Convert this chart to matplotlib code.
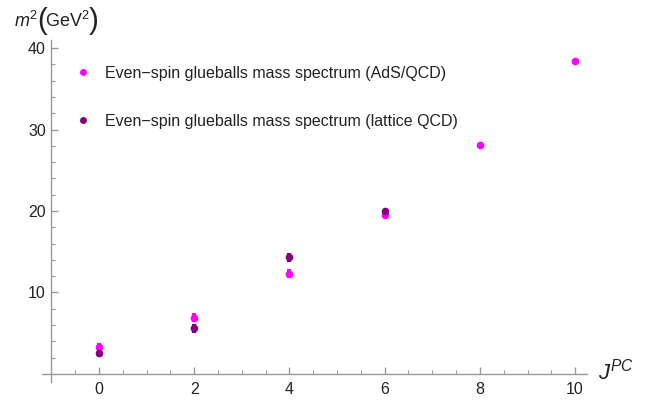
import matplotlib
matplotlib.use("Agg")
import matplotlib.pyplot as plt
from matplotlib.ticker import MultipleLocator
from matplotlib.lines import Line2D
from matplotlib.offsetbox import TextArea, HPacker, AnchoredOffsetbox

# Data
ads_J = [0, 2, 4, 6, 8, 10]
ads_m2 = [3.3, 6.9, 12.3, 19.5, 28.1, 38.4]
ads_err = [0.55, 0.55, 0.55, 0.0, 0.0, 0.0]
lat_J = [0, 2, 4, 6]
lat_m2 = [2.6, 5.6, 14.3, 20.0]
lat_err = [0.55, 0.55, 0.55, 0.0]
labels = ["Even\u2212spin glueballs mass spectrum (AdS/QCD)",
          "Even\u2212spin glueballs mass spectrum (lattice QCD)"]
c_ads = "#FF00FF"
c_lat = "#800080"

plt.rcParams['font.family'] = ['Liberation Sans', 'DejaVu Sans']
plt.rcParams['mathtext.fontset'] = 'custom'
plt.rcParams['mathtext.rm'] = 'Liberation Sans'
plt.rcParams['mathtext.it'] = 'Liberation Sans:italic'

fig = plt.figure(figsize=(6.47, 4.0), dpi=100)
ax = fig.add_axes([0.0648, 0.045, 0.8425, 0.855])
ax.set_xlim(-1.2, 10.25)
ax.set_ylim(-1.0, 41.0)

axis_col = "#999999"
for s in ['top', 'right']:
    ax.spines[s].set_visible(False)
ax.spines['left'].set_position(('data', -1))
ax.spines['bottom'].set_position(('data', 0))
for s in ['left', 'bottom']:
    ax.spines[s].set_color(axis_col)
    ax.spines[s].set_linewidth(1.0)

ax.xaxis.set_major_locator(MultipleLocator(2))
ax.xaxis.set_minor_locator(MultipleLocator(0.5))
ax.yaxis.set_major_locator(MultipleLocator(10))
ax.yaxis.set_minor_locator(MultipleLocator(2))
ax.set_xticks([0, 2, 4, 6, 8, 10])
ax.set_yticks([10, 20, 30, 40])
ax.tick_params(which='both', direction='in', color=axis_col, labelsize=11.5, labelcolor='#222222')
ax.tick_params(which='major', length=5, width=1)
ax.tick_params(which='minor', length=3, width=0.8)
ax.tick_params(axis='x', pad=6)
ax.tick_params(axis='y', pad=4)

ax.errorbar(ads_J, ads_m2, yerr=ads_err, fmt='o', color=c_ads, ms=5.5, mew=0,
            elinewidth=3, capsize=3, capthick=2, zorder=3)
ax.errorbar(lat_J, lat_m2, yerr=lat_err, fmt='o', color=c_lat, ms=5.5, mew=0,
            elinewidth=3, capsize=3, capthick=2, zorder=3)

handles = [Line2D([], [], ls='none', marker='o', color=c_ads, ms=5, mew=0),
           Line2D([], [], ls='none', marker='o', color=c_lat, ms=5, mew=0)]
leg = ax.legend(handles, labels, loc='upper left', bbox_to_anchor=(67/647, 1 - 58/400),
                bbox_transform=fig.transFigure, frameon=False, fontsize=11.5,
                handlelength=1.0, handletextpad=0.9, labelspacing=2.05, borderpad=0)
for t in leg.get_texts():
    t.set_color('#222222')

# y-axis label: m^2 ( GeV^2 ) with tall parentheses
tc = '#222222'
small = dict(fontsize=13, color=tc)
big = dict(fontsize=21, color=tc)
parts = [TextArea(r'$m^2$', textprops=small),
         TextArea('(', textprops=big),
         TextArea(r'$\mathrm{GeV}^2$', textprops=small),
         TextArea(')', textprops=big)]
pack = HPacker(children=parts, align='center', pad=0, sep=-1)
anch = AnchoredOffsetbox(loc='center left', child=pack, pad=0, borderpad=0, frameon=False,
                         bbox_to_anchor=(14/647, 1 - 21/400), bbox_transform=fig.transFigure)
fig.add_artist(anch)

fig.text(598/647, 1 - 372/400, r'$J^{PC}$', fontsize=16, ha='left', va='center',
         color=tc)

fig.savefig("out.png", dpi=100)
